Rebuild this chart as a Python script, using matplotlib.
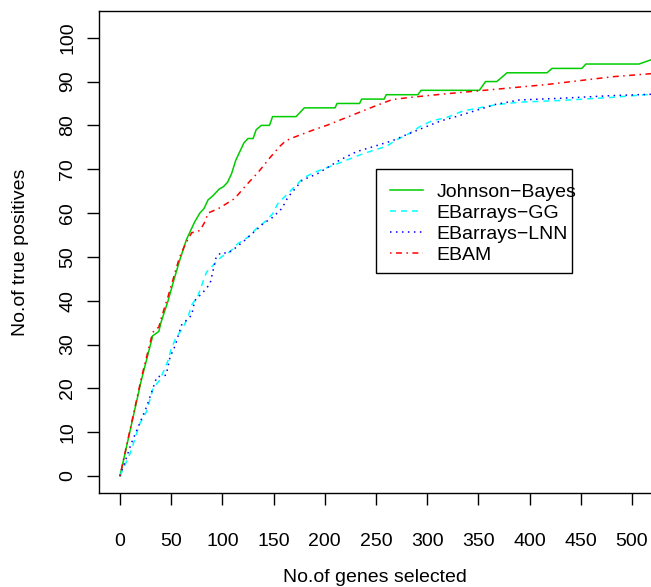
import matplotlib
matplotlib.use("Agg")
import matplotlib.pyplot as plt
from matplotlib.patches import Rectangle

plt.rcParams['font.family'] = ['Liberation Sans', 'DejaVu Sans']
plt.rcParams['lines.scale_dashes'] = False

# ---- data ----
green_x = [0, 21, 32, 38, 40, 47, 53, 58, 65, 73, 78, 82, 86, 91, 97, 101, 105, 109, 113, 117,
           121, 125, 130, 133, 138, 146, 149, 172, 180, 210, 212, 234, 236, 258, 260, 291, 294,
           351, 357, 368, 378, 417, 422, 451, 455, 507, 519]
green_y = [0, 22, 32, 33, 35, 40, 45, 49, 54, 58, 60, 61, 63, 64, 65.5, 66, 67, 69, 72, 74,
           76, 77, 77, 79, 80, 80, 82, 82, 84, 84, 85, 85, 86, 86, 87, 87, 88,
           88, 90, 90, 92, 92, 93, 93, 94, 94, 95]

gg_x = [0, 10, 19.5, 26, 32.5, 39, 47, 50, 55, 62, 67, 70, 76, 81, 84.5, 91, 99, 107, 115, 125,
        133, 141, 149, 154, 162, 179, 190, 205, 214, 237, 250, 260, 270, 283, 292, 305, 318,
        335, 367, 390, 432, 481, 519]
gg_y = [0, 5.2, 12, 14.7, 20.1, 21.9, 26.4, 29, 31.7, 34, 36.7, 39, 41, 44.3, 46.5, 48.1, 50,
        51.1, 53, 54.5, 56.4, 57.9, 59.8, 62.1, 64, 68, 69.3, 70.6, 71.4, 73.5, 74.5, 75.2, 76.7,
        78.2, 79.6, 81.1, 81.7, 83.3, 84.7, 85.3, 85.7, 86.4, 87.1]

lnn_x = [0, 5, 11, 26, 36, 45, 49, 54, 60, 70, 73, 83, 88, 94, 99, 105, 112, 122, 140, 149, 158,
         164, 178, 193, 214, 231, 248, 266, 281, 299, 313, 331, 367, 390, 432, 481, 519]
lnn_y = [0, 3.3, 7.4, 15.8, 22.6, 23, 27.2, 29.8, 34.4, 36.7, 40, 42.4, 43.9, 50, 51, 50.8,
         51.9, 53.8, 57.6, 59, 61, 63.6, 67.5, 69, 72, 74, 75.2, 76.5, 78, 79.7, 81, 82.2, 84.8,
         85.8, 86.2, 86.8, 87.1]

ebam_x = [0, 21, 32, 38, 40, 47, 53, 58, 64, 70, 78, 83, 86, 96, 112, 123, 135, 146, 156, 162,
          169, 187, 203, 219, 234, 250, 266, 284, 318, 351, 416, 481, 519]
ebam_y = [0, 22.5, 32.8, 34, 35.8, 41, 45.8, 49.8, 53, 55.5, 56, 58, 60, 61, 63.3, 66.3, 69.3,
          72.5, 75.2, 76.5, 77.2, 78.8, 80.1, 81.6, 83, 84.5, 85.9, 86.4, 87.2, 87.9, 89.3,
          91.1, 91.8]

labels = ["Johnson\u2212Bayes", "EBarrays\u2212GG", "EBarrays\u2212LNN", "EBAM"]
x_ticks = [0, 50, 100, 150, 200, 250, 300, 350, 400, 450, 500]
y_ticks = [0, 10, 20, 30, 40, 50, 60, 70, 80, 90, 100]

FS = 14
W, H = 651, 587
fig = plt.figure(figsize=(W / 100, H / 100), dpi=100)
L, R, B, T = 99.3, 651, 493.3, 11
ax = fig.add_axes([L / W, (H - B) / H, (R - L) / W, (B - T) / H])

lw = 1.1
ax.plot(green_x, green_y, color='#00CD00', lw=lw, label=labels[0])
ax.plot(gg_x, gg_y, color='cyan', lw=lw, dashes=(4.3, 3.6), label=labels[1])
ax.plot(lnn_x, lnn_y, color='blue', lw=lw, dashes=(1.1, 3.2), label=labels[2])
ax.plot(ebam_x, ebam_y, color='red', lw=lw, dashes=(1.1, 3.2, 4.3, 3.2), label=labels[3])

ax.set_xlim(-20.2, 518.6)
ax.set_ylim(-3.95, 106.1)
ax.set_xticks(x_ticks)
ax.set_yticks(y_ticks)
ax.set_yticklabels([str(v) for v in y_ticks], rotation=90, va='center')
ax.tick_params(axis='both', direction='out', length=8.6, width=1.0, labelsize=FS, color='black')
ax.tick_params(axis='x', pad=20)
ax.tick_params(axis='y', pad=8)
for s in ['left', 'bottom', 'top']:
    ax.spines[s].set_linewidth(1.0)
ax.spines['right'].set_visible(False)

ax.set_xlabel("No.of genes selected", fontsize=FS)
ax.xaxis.set_label_coords(0.5, (B - 578) / (B - T))
ax.xaxis.label.set_va('center')
ax.set_ylabel("No.of true positives", fontsize=FS)
ax.yaxis.set_label_coords((21 - L) / (R - L), 0.5)
ax.yaxis.label.set_va('center')

# legend: entries from the plotted lines, frame drawn as in the reference
lx0, ly0, lx1, ly1 = 376, 169.3, 572, 273.3
leg = ax.legend(loc='upper left', bbox_to_anchor=((lx0 - L) / (R - L), (B - ly0) / (B - T)),
                borderaxespad=0, fontsize=FS, frameon=False,
                handlelength=1.7, handletextpad=0.7, borderpad=0.7,
                labelspacing=0.18)
leg.set_zorder(6)
ax.add_patch(Rectangle((lx0 / W, (H - ly1) / H), (lx1 - lx0) / W, (ly1 - ly0) / H,
                       transform=fig.transFigure, clip_on=False, facecolor='white',
                       edgecolor='black', linewidth=1.0, zorder=5))
fig.savefig("out.png", dpi=100)
